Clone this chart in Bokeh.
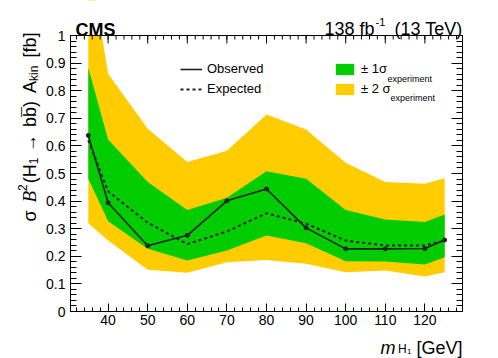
import math
from bokeh.plotting import figure
from bokeh.models import (Range1d, LinearAxis, FixedTicker, Label, Legend, LegendItem)
from bokeh.embed import file_html
from bokeh.resources import INLINE

# ---------------- data ----------------
mass = [35, 40, 50, 60, 70, 80, 90, 100, 110, 120, 125]
observed = [0.638, 0.394, 0.238, 0.276, 0.401, 0.444, 0.303, 0.227, 0.227, 0.228, 0.259]
expected = [0.620, 0.435, 0.322, 0.244, 0.290, 0.356, 0.318, 0.257, 0.239, 0.239, 0.257]
one_sigma_up = [0.883, 0.623, 0.469, 0.368, 0.412, 0.508, 0.481, 0.368, 0.333, 0.324, 0.351]
one_sigma_down = [0.481, 0.327, 0.227, 0.185, 0.221, 0.275, 0.247, 0.182, 0.181, 0.170, 0.197]
two_sigma_up = [1.30, 0.861, 0.662, 0.542, 0.582, 0.714, 0.659, 0.539, 0.469, 0.463, 0.483]
two_sigma_down = [0.320, 0.257, 0.151, 0.140, 0.178, 0.187, 0.173, 0.142, 0.149, 0.127, 0.142]

x_ticks = [40, 50, 60, 70, 80, 90, 100, 110, 120]
x_minor_ticks = list(range(32, 130, 2))
y_ticks = [0, 0.1, 0.2, 0.3, 0.4, 0.5, 0.6, 0.7, 0.8, 0.9, 1]
y_tick_labels = ["0", "0.1", "0.2", "0.3", "0.4", "0.5", "0.6", "0.7", "0.8", "0.9", "1"]
y_minor_ticks = [round(0.02 * i, 2) for i in range(51)]

X_START, X_END = 30.5, 129.5   # axis extent
Y_START, Y_END = 0.0, 1.0

# ---------------- layout (page pixels; Bokeh's page has no body margin) ----------------
FIG_W, FIG_H = 498, 358
PAGE = 0
FRAME_L, FRAME_T, FRAME_R, FRAME_B = 70, 35, 462, 311

FONT = "Liberation Sans"
INK = "#222222"
GREEN = "#00CC00"
YELLOW = "#FFCC00"


def X(px):
    return X_START + (px - FRAME_L) * (X_END - X_START) / (FRAME_R - FRAME_L)


def Y(py):
    return Y_START + (FRAME_B - py) * (Y_END - Y_START) / (FRAME_B - FRAME_T)


PX_Y = (Y_END - Y_START) / (FRAME_B - FRAME_T)   # data units per vertical pixel

# the plotting area spans the whole canvas; the axes box is drawn with fixed-location axes
p = figure(width=FIG_W, height=FIG_H, output_backend="svg", toolbar_location=None,
           x_range=Range1d(X(PAGE), X(PAGE + FIG_W)),
           y_range=Range1d(Y(PAGE + FIG_H), Y(PAGE)),
           x_axis_type=None, y_axis_type=None,
           min_border=0, min_border_left=0, min_border_right=0,
           min_border_top=0, min_border_bottom=0)
p.xgrid.visible = False
p.ygrid.visible = False
p.outline_line_color = None
p.background_fill_color = "white"
p.border_fill_color = "white"


def style_axis(ax, major_in, minor_in, labels):
    ax.major_tick_in = major_in
    ax.major_tick_out = 0
    ax.minor_tick_in = minor_in
    ax.minor_tick_out = 0
    ax.axis_line_color = "black"
    ax.major_tick_line_color = "black"
    ax.minor_tick_line_color = "black"
    ax.major_label_text_font = FONT
    ax.major_label_text_font_size = "14px"
    ax.major_label_text_color = "black" if labels else None


xt = FixedTicker(ticks=x_ticks, minor_ticks=x_minor_ticks)
yt = FixedTicker(ticks=y_ticks, minor_ticks=y_minor_ticks)
y_over = {t: s for t, s in zip(y_ticks, y_tick_labels)}

# ---------------- data marks ----------------
band2 = p.varea(x=mass, y1=two_sigma_down, y2=two_sigma_up, fill_color=YELLOW)
band1 = p.varea(x=mass, y1=one_sigma_down, y2=one_sigma_up, fill_color=GREEN)
exp_line = p.line(mass, expected, line_color=INK, line_width=2, line_dash="3 3")
obs_line = p.line(mass, observed, line_color=INK, line_width=1.6)
p.scatter(mass, observed, size=4, fill_color=INK, line_color=INK)

# white mask over the area above the axes box, so the band is cut at the top edge
p.quad(left=[X(PAGE)], right=[X(PAGE + FIG_W)], bottom=[Y(FRAME_T - 1)], top=[Y(PAGE)],
       fill_color="white", line_color=None)

# top edge of the axes box with its inward ticks (ROOT style), drawn after the mask
p.line([X_START, X_END], [Y_END, Y_END], line_color="black", line_width=1)
p.segment(x0=x_ticks, y0=[Y_END] * len(x_ticks), x1=x_ticks,
          y1=[Y_END - 8 * PX_Y] * len(x_ticks), line_color="black", line_width=1)
p.segment(x0=x_minor_ticks, y0=[Y_END] * len(x_minor_ticks), x1=x_minor_ticks,
          y1=[Y_END - 4 * PX_Y] * len(x_minor_ticks), line_color="black", line_width=1)

xb = LinearAxis(ticker=xt, fixed_location=Y_START, bounds=(X_START, X_END))
style_axis(xb, 8, 4, True)
xb.major_label_standoff = 3
p.add_layout(xb, "below")
yl = LinearAxis(ticker=yt, major_label_overrides=y_over, fixed_location=X_START,
                bounds=(Y_START, Y_END))
style_axis(yl, 11, 6, True)
yl.major_label_standoff = 5
p.add_layout(yl, "left")
yr = LinearAxis(ticker=yt, fixed_location=X_END, bounds=(Y_START, Y_END))
style_axis(yr, 11, 6, False)
p.add_layout(yr, "right")


# ---------------- legends ----------------
def make_legend(items, left_px, glyph_w):
    top_px = 63.3
    leg_h = 14 + 5 + 14
    return Legend(items=items,
                  location=(left_px - PAGE, (PAGE + FIG_H) - (top_px + leg_h)),
                  glyph_width=glyph_w, glyph_height=14, label_height=14, label_width=10,
                  label_standoff=5, spacing=5, padding=0, margin=0,
                  border_line_alpha=0, background_fill_alpha=0,
                  label_text_font=FONT, label_text_font_size="13px",
                  label_text_color="black")


leg1 = make_legend([LegendItem(label="Observed", renderers=[obs_line]),
                    LegendItem(label="Expected", renderers=[exp_line])], 180, 22)
leg2 = make_legend([LegendItem(label="± 1σ", renderers=[band1]),
                    LegendItem(label="± 2 σ", renderers=[band2])], 333, 23)
p.add_layout(leg1)
p.add_layout(leg2)


def lab(px, py, text, size, align="left", style="normal", font=FONT, angle=0.0):
    p.add_layout(Label(x=X(px), y=Y(py), text=text, text_font=font,
                       text_font_size=f"{size}px", text_font_style=style,
                       text_align=align, text_baseline="alphabetic",
                       text_color="black", angle=angle))


# legend subscripts
lab(387, 78.5, "experiment", 9)
lab(390, 97.5, "experiment", 9)

# header texts
lab(75, 29, "CMS", 18, style="bold")
lab(374, 28.5, "138 fb", 18, align="right")
lab(375, 21, "-1", 11)
lab(462, 28.5, "(13 TeV)", 18, align="right")

# x-axis title
lab(380, 347, "m", 18, style="italic")
lab(397.5, 348.5, "H", 12)
lab(406.5, 351, "1", 8)
lab(462, 347, "[GeV]", 18, align="right")

# y-axis title (rotated pieces laid out along the axis)
W = {' ': 0.278, '(': 0.333, ')': 0.333, '[': 0.278, ']': 0.278, '1': 0.556, '2': 0.556,
     'H': 0.722, 'A': 0.667, 'B': 0.611, 'b': 0.556, 'f': 0.278, 'k': 0.5, 'i': 0.222,
     'n': 0.556, 'σ': 0.6, '→': 1.0}


def tw(t, s):
    return sum(W.get(c, 0.556) for c in t) * s


# (text, size, baseline shift px, style, font, gap_em_after)
pieces = [
    ("σ", 18, 0, "normal", FONT, 0.45),
    ("B", 19, 0, "italic", "Liberation Serif", 0.0),
    ("2", 12, -7, "normal", FONT, 0.05),
    ("(H", 18, 0, "normal", FONT, 0.0),
    ("1", 12, 4, "normal", FONT, 0.3),
    ("→", 18, 0, "normal", FONT, 0.4),
    ("b", 18, 0, "normal", FONT, 0.0),
    ("b", 18, 0, "normal", FONT, 0.0),
    (")", 18, 0, "normal", FONT, 0.45),
    ("A", 18, 0, "normal", FONT, 0.0),
    ("kin", 12, 4, "normal", FONT, 0.45),
    ("[fb]", 18, 0, "normal", FONT, 0.0),
]
BASE_X = 29
TOP_Y = 32
total = sum(tw(t, s) + g * 18 for t, s, _, _, _, g in pieces)
cur = TOP_Y + total
for i, (t, s, sh, st, fnt, g) in enumerate(pieces):
    lab(BASE_X + sh, cur, t, s, style=st, font=fnt, angle=math.pi / 2)
    if i == 7:
        lab(BASE_X - 1, cur, "¯", 18, angle=math.pi / 2)
    cur -= tw(t, s) + g * 18

open("out.html", "w").write(file_html(p, INLINE))
